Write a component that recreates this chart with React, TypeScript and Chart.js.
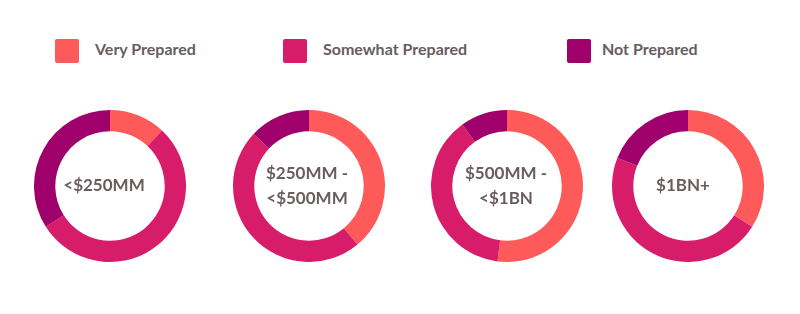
import React, { useEffect, useRef } from "react";
import { Chart, registerables } from "chart.js";

Chart.register(...registerables);

const seriesNames = ["Very Prepared", "Somewhat Prepared", "Not Prepared"];
const seriesColors = ["#fe5a5a", "#d71c69", "#9f006b"];
const categories = [["<$250MM"], ["$250MM -", "<$500MM"], ["$500MM -", "<$1BN"], ["$1BN+"]];
const veryPrepared = [12, 39, 52, 34];
const somewhatPrepared = [54, 48, 38, 47];
const notPrepared = [34, 13, 10, 19];

const centersX = [110, 309, 507, 688];
const labelShiftX = [-6, -2, -1, -5];
const centerY = 186;
const radius = 76;
const legendX = [55, 283, 567];
const legendTextX = [95, 323, 602];
const textColor = "#675d5d";
const fontFamily = "Lato, 'Open Sans', sans-serif";

function Donut({ idx }: { idx: number }) {
  const ref = useRef<HTMLCanvasElement>(null);
  useEffect(() => {
    if (!ref.current) return;
    const lines = categories[idx];
    const chart = new Chart(ref.current, {
      type: "doughnut",
      data: {
        labels: seriesNames,
        datasets: [
          {
            data: [veryPrepared[idx], somewhatPrepared[idx], notPrepared[idx]],
            backgroundColor: seriesColors,
            borderWidth: 0,
          },
        ],
      },
      options: {
        responsive: false,
        animation: false,
        cutout: "72%",
        layout: { padding: 0 },
        plugins: { legend: { display: false }, tooltip: { enabled: false } },
      },
      plugins: [
        {
          id: "centerText",
          afterDraw(c: any) {
            const ctx = c.ctx;
            const { left, right, top, bottom } = c.chartArea;
            const cx = (left + right) / 2 + labelShiftX[idx];
            const cy = (top + bottom) / 2;
            ctx.save();
            ctx.fillStyle = textColor;
            ctx.font = `bold 17px ${fontFamily}`;
            ctx.textAlign = "center";
            ctx.textBaseline = "middle";
            const lh = 25.5;
            const start = cy - ((lines.length - 1) * lh) / 2;
            lines.forEach((l, i) => ctx.fillText(l, cx, start + i * lh));
            ctx.restore();
          },
        },
      ],
    });
    return () => chart.destroy();
  }, [idx]);
  return (
    <canvas
      ref={ref}
      width={radius * 2}
      height={radius * 2}
      style={{
        position: "absolute",
        left: centersX[idx] - radius,
        top: centerY - radius,
        width: radius * 2,
        height: radius * 2,
      }}
    />
  );
}

export default function App() {
  return (
    <div
      style={{
        position: "fixed",
        left: 0,
        top: 0,
        width: 800,
        height: 314,
        background: "#ffffff",
        fontFamily,
      }}
    >
      {seriesNames.map((name, i) => (
        <div key={name}>
          <div
            style={{
              position: "absolute",
              left: legendX[i],
              top: 39,
              width: 24,
              height: 24,
              borderRadius: 2,
              background: seriesColors[i],
            }}
          />
          <div
            style={{
              position: "absolute",
              left: legendTextX[i],
              top: 38,
              height: 24,
              lineHeight: "22px",
              fontSize: 16,
              fontWeight: 700,
              color: textColor,
              whiteSpace: "nowrap",
            }}
          >
            {name}
          </div>
        </div>
      ))}
      {categories.map((_, i) => (
        <Donut key={i} idx={i} />
      ))}
    </div>
  );
}
